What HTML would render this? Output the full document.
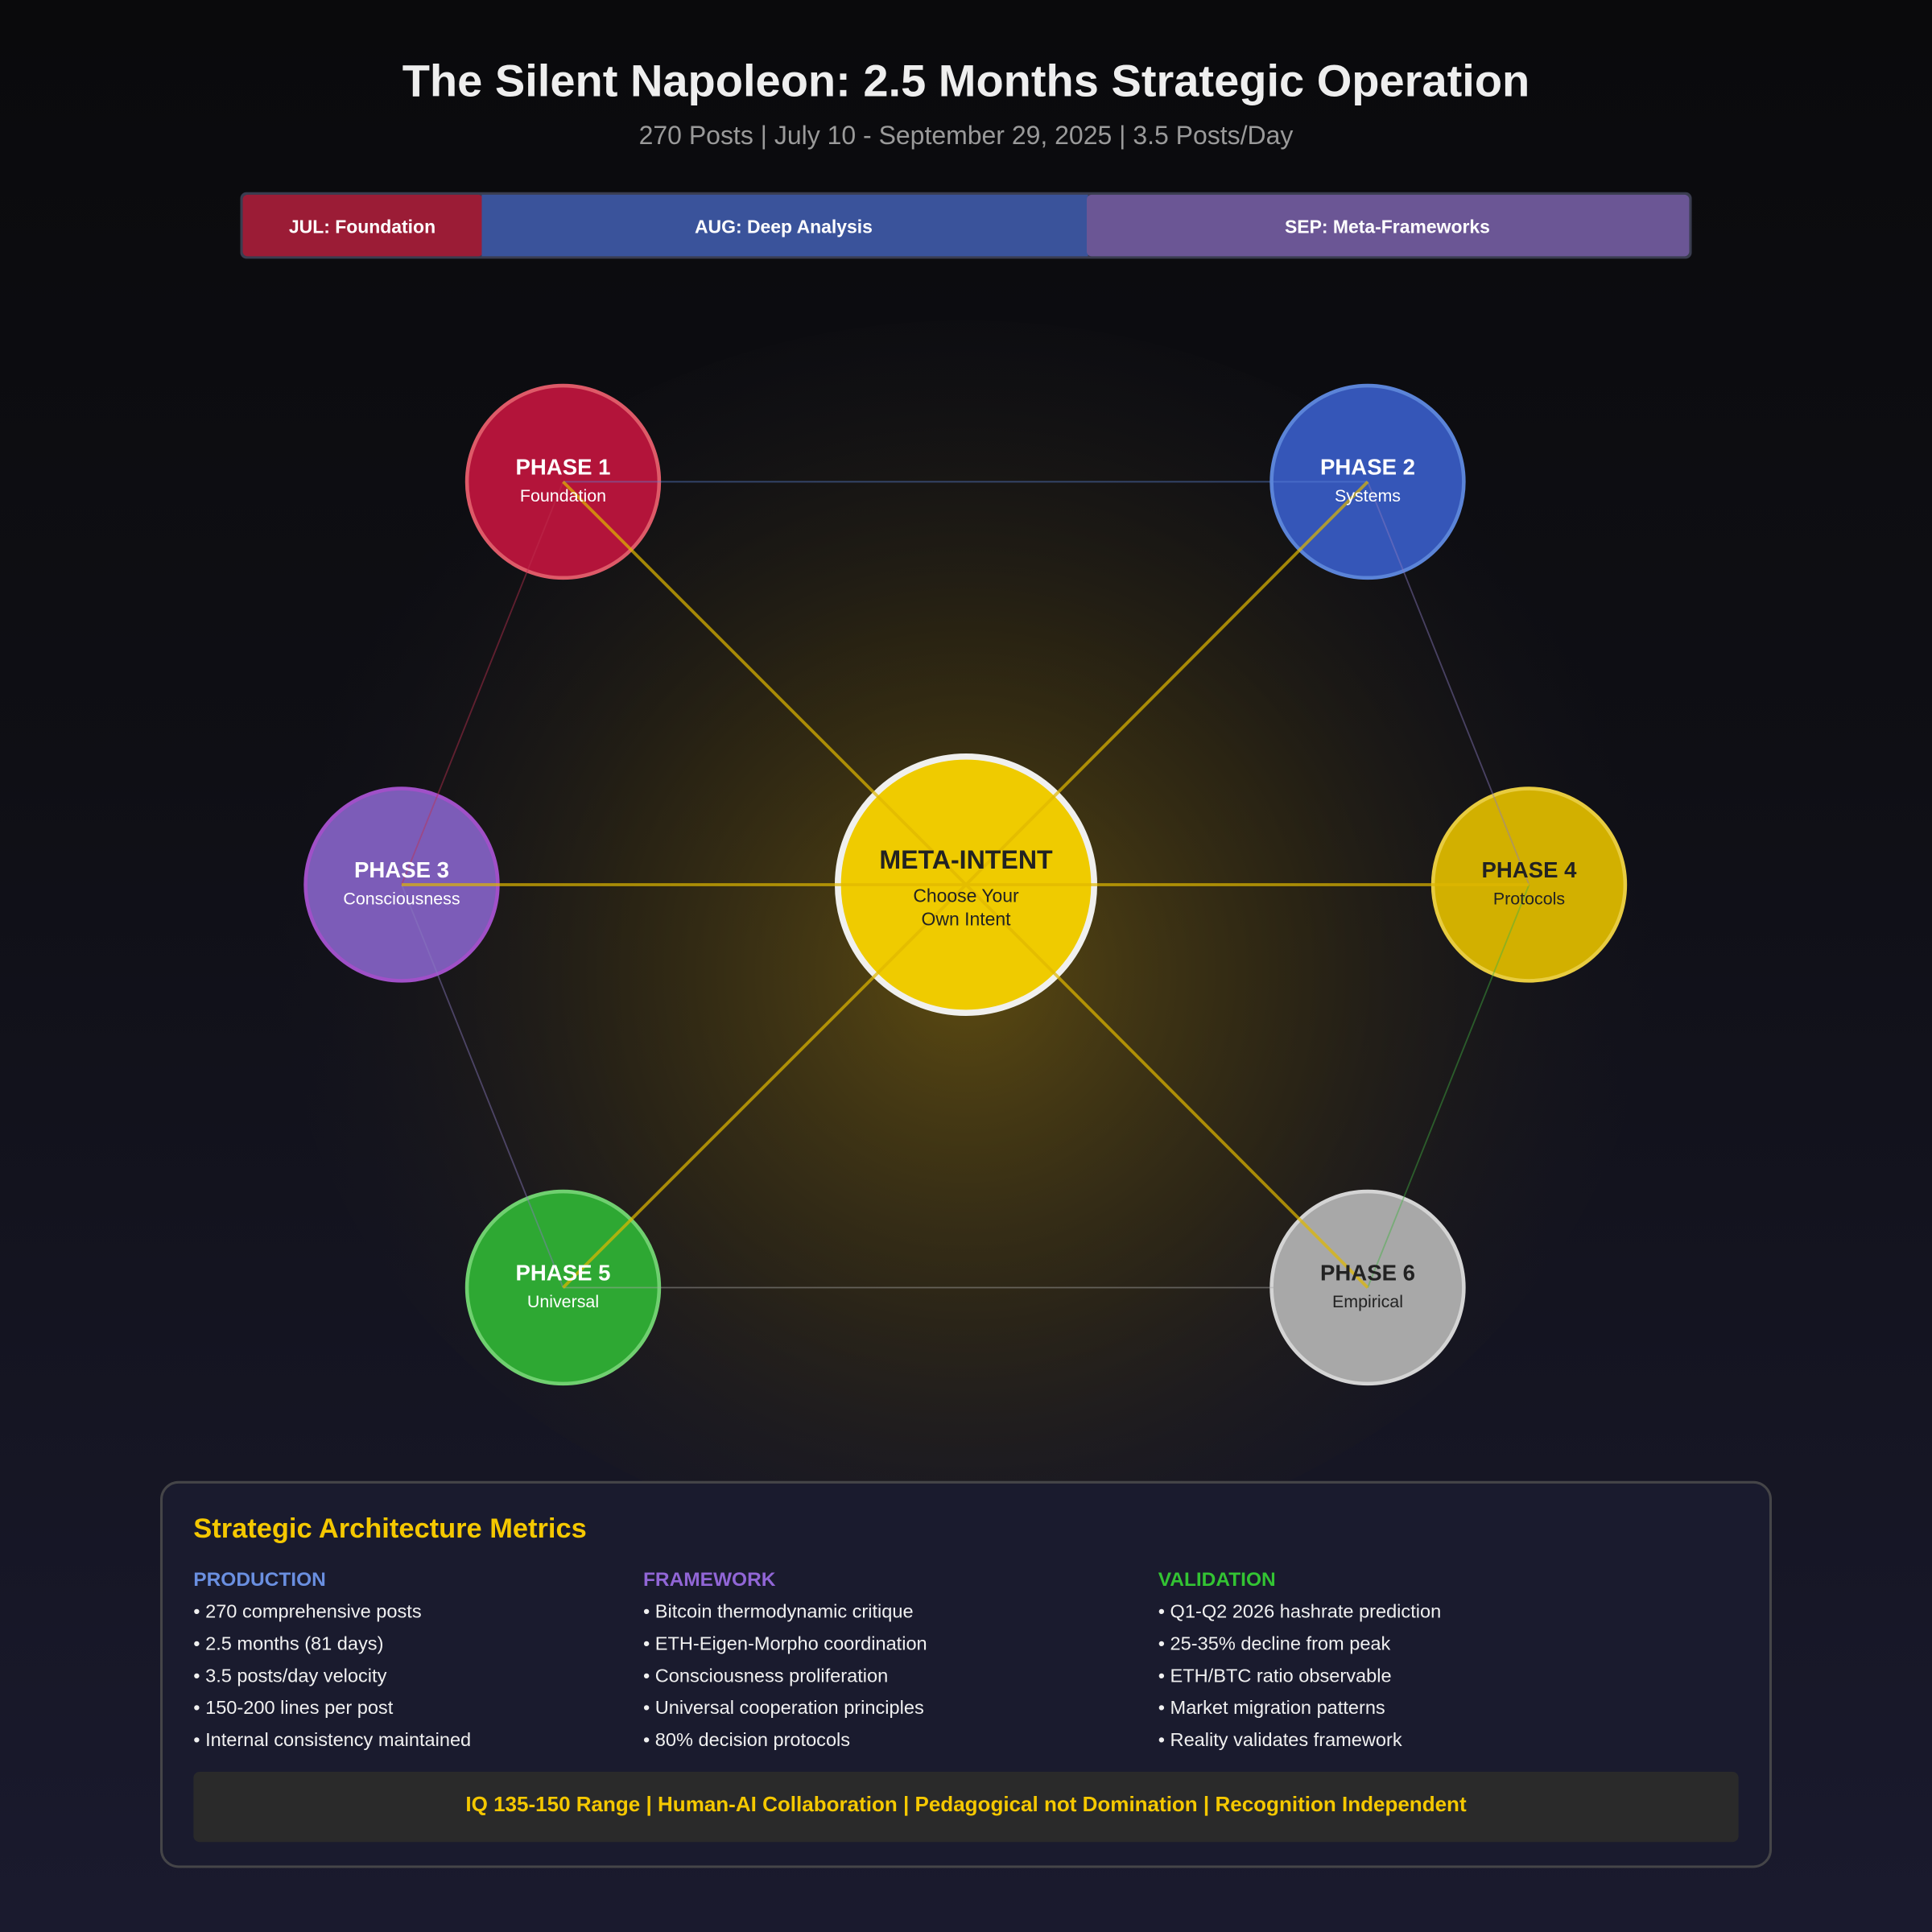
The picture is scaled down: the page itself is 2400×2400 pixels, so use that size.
<!DOCTYPE html>
<html><head><meta charset="utf-8"><style>html,body{margin:0;padding:0;background:#0b0b0d}svg{display:block}</style></head>
<body>
<svg width="2400" height="2400" viewBox="0 0 1568 1568" xmlns="http://www.w3.org/2000/svg" font-family="Liberation Sans, Arial, sans-serif">
<defs>
<linearGradient id="bg" x1="0" y1="0" x2="0" y2="1"><stop offset="0" stop-color="#0a0a0c"/><stop offset="0.4" stop-color="#0f0f15"/><stop offset="1" stop-color="#1a1a2e"/></linearGradient>
<radialGradient id="glow" cx="784" cy="790" r="560" gradientUnits="userSpaceOnUse"><stop offset="0" stop-color="#6a5510" stop-opacity="0.85"/><stop offset="0.5" stop-color="#3a3012" stop-opacity="0.6"/><stop offset="1" stop-color="#1a1a20" stop-opacity="0"/></radialGradient>
</defs>
<rect width="1568" height="1568" fill="url(#bg)"/>
<ellipse cx="784" cy="760" rx="560" ry="500" fill="url(#glow)"/>
<text x="784" y="78" text-anchor="middle" font-size="36.6" font-weight="bold" fill="#eeeeee">The Silent Napoleon: 2.5 Months Strategic Operation</text>
<text x="784" y="117" text-anchor="middle" font-size="20.9" fill="#9a9a9a">270 Posts | July 10 - September 29, 2025 | 3.5 Posts/Day</text>
<rect x="195" y="156" width="1178" height="54" rx="5" fill="#3a3d50"/>
<rect x="197" y="158" width="195" height="50" rx="4" fill="#9b1c36"/>
<rect x="391" y="158" width="492" height="50" fill="#3a539b"/>
<rect x="882" y="158" width="489" height="50" rx="4" fill="#6b5695"/>
<g font-size="15" font-weight="bold" fill="#fff" text-anchor="middle">
<text x="294" y="189">JUL: Foundation</text><text x="636" y="189">AUG: Deep Analysis</text><text x="1126" y="189">SEP: Meta-Frameworks</text></g>
<g stroke-width="3">
<circle cx="457" cy="391" r="78" fill="#b3143a" stroke="#de5a68"/>
<circle cx="1110" cy="391" r="78" fill="#3556b8" stroke="#5b84d8"/>
<circle cx="326" cy="718" r="78" fill="#7c5cb8" stroke="#a050c8"/>
<circle cx="1241" cy="718" r="78" fill="#d2b000" stroke="#e8cc40"/>
<circle cx="457" cy="1045" r="78" fill="#2ea833" stroke="#70d070"/>
<circle cx="1110" cy="1045" r="78" fill="#a8a8a8" stroke="#d4d4d4"/>
<circle cx="784" cy="718" r="104" fill="#efcb00" stroke="#f0f0ee" stroke-width="5"/>
</g>
<g stroke-width="1.2" opacity="0.45">
<line x1="457" y1="391" x2="1110" y2="391" stroke="#5b84d8"/>
<line x1="1110" y1="391" x2="1241" y2="718" stroke="#8a7ac0"/>
<line x1="1241" y1="718" x2="1110" y2="1045" stroke="#40b040"/>
<line x1="1110" y1="1045" x2="457" y2="1045" stroke="#aaaaaa"/>
<line x1="457" y1="1045" x2="326" y2="718" stroke="#8a7ac0"/>
<line x1="326" y1="718" x2="457" y2="391" stroke="#c03050"/>
</g>
<g stroke="#e0b800" stroke-width="2.5" opacity="0.7">
<line x1="784" y1="718" x2="457" y2="391"/><line x1="784" y1="718" x2="1110" y2="391"/>
<line x1="784" y1="718" x2="326" y2="718"/><line x1="784" y1="718" x2="1241" y2="718"/>
<line x1="784" y1="718" x2="457" y2="1045"/><line x1="784" y1="718" x2="1110" y2="1045"/>
</g>
<g text-anchor="middle">
<g font-size="18" font-weight="bold">
<text x="457" y="385" fill="#fff">PHASE 1</text><text x="1110" y="385" fill="#fff">PHASE 2</text>
<text x="326" y="712" fill="#fff">PHASE 3</text><text x="1241" y="712" fill="#222">PHASE 4</text>
<text x="457" y="1039" fill="#fff">PHASE 5</text><text x="1110" y="1039" fill="#222">PHASE 6</text></g>
<g font-size="14">
<text x="457" y="407" fill="#fff">Foundation</text><text x="1110" y="407" fill="#fff">Systems</text>
<text x="326" y="734" fill="#fff">Consciousness</text><text x="1241" y="734" fill="#222">Protocols</text>
<text x="457" y="1061" fill="#fff">Universal</text><text x="1110" y="1061" fill="#222">Empirical</text></g>
<text x="784" y="705" font-size="21" font-weight="bold" fill="#222">META-INTENT</text>
<text x="784" y="732" font-size="15" fill="#222">Choose Your</text>
<text x="784" y="751" font-size="15" fill="#222">Own Intent</text>
</g>
<rect x="131" y="1203" width="1306" height="312" rx="14" fill="#1a1b2e" stroke="#454548" stroke-width="2"/>
<text x="157" y="1248" font-size="22.5" font-weight="bold" fill="#f5c800">Strategic Architecture Metrics</text>
<g font-size="16" font-weight="bold">
<text x="157" y="1287" fill="#6a8fe0">PRODUCTION</text><text x="522" y="1287" fill="#9166d6">FRAMEWORK</text><text x="940" y="1287" fill="#33c433">VALIDATION</text></g>
<g font-size="15.4" fill="#f0f0f0">
<text x="157" y="1313">• 270 comprehensive posts</text><text x="157" y="1339">• 2.5 months (81 days)</text><text x="157" y="1365">• 3.5 posts/day velocity</text><text x="157" y="1391">• 150-200 lines per post</text><text x="157" y="1417">• Internal consistency maintained</text>
<text x="522" y="1313">• Bitcoin thermodynamic critique</text><text x="522" y="1339">• ETH-Eigen-Morpho coordination</text><text x="522" y="1365">• Consciousness proliferation</text><text x="522" y="1391">• Universal cooperation principles</text><text x="522" y="1417">• 80% decision protocols</text>
<text x="940" y="1313">• Q1-Q2 2026 hashrate prediction</text><text x="940" y="1339">• 25-35% decline from peak</text><text x="940" y="1365">• ETH/BTC ratio observable</text><text x="940" y="1391">• Market migration patterns</text><text x="940" y="1417">• Reality validates framework</text></g>
<rect x="157" y="1438" width="1254" height="57" rx="5" fill="#2a2a2a"/>
<text x="784" y="1470" text-anchor="middle" font-size="17" font-weight="bold" fill="#f5c800">IQ 135-150 Range | Human-AI Collaboration | Pedagogical not Domination | Recognition Independent</text>
</svg>
</body></html>
